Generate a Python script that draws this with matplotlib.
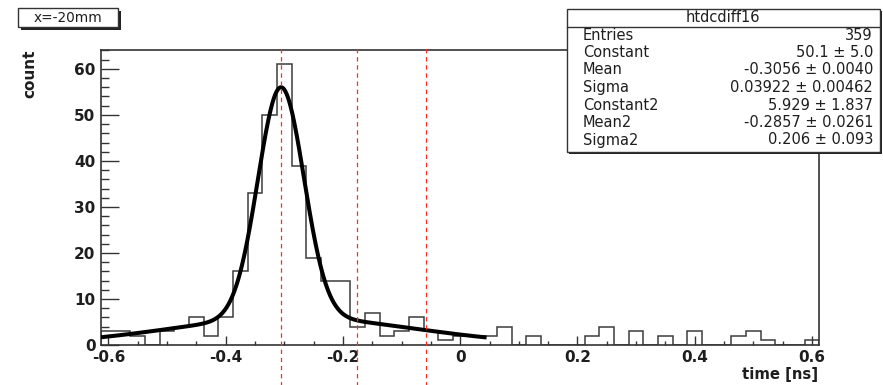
"""
Timing-difference histogram htdcdiff16 (x = -20 mm) with a double-Gaussian fit,
drawn in the style of a ROOT canvas: stats box, pad label and marker lines.
"""

import numpy as np
import matplotlib.pyplot as plt
from matplotlib.patches import Rectangle
from matplotlib.ticker import MultipleLocator, FuncFormatter

# =============================================================================
# DATA
# =============================================================================
HIST_NAME = "htdcdiff16"
PAD_LABEL = "x=-20mm"
ENTRIES = 359

# 49 bins of 0.025 ns, centred on multiples of 0.025 from -0.6 to 0.6
x_lo, x_hi = -0.6125, 0.6125
counts = [3, 3, 2, 0, 3, 4, 6, 2, 6,
          16, 33, 50, 61, 39, 19, 14, 14,
          4, 7, 2, 3, 6, 3, 1, 2,
          2, 2, 4, 0, 2, 0, 0, 0,
          2, 4, 0, 3, 0, 2, 0, 3,
          0, 0, 2, 3, 1, 0, 0, 1]

# fit results: (name, value, error)
fit_pars = [
    ("Constant",  50.1,     5.0),
    ("Mean",      -0.3056,  0.0040),
    ("Sigma",     0.03922,  0.00462),
    ("Constant2", 5.929,    1.837),
    ("Mean2",     -0.2857,  0.0261),
    ("Sigma2",    0.206,    0.093),
]
fit_fmt = ["{:.1f}", "{:.4f}", "{:.5f}", "{:.3f}", "{:.4f}", "{:.3f}"]
fit_range = (-0.6125, 0.045)

# cut lines (ns)
cut_lines = [-0.3056, -0.176, -0.059]

# =============================================================================
# STYLE
# =============================================================================
W, H = 883, 385
TXT = "#1e1e1e"
plt.rcParams.update({
    "font.family": ["DejaVu Sans"],
    "axes.linewidth": 1.2,
    "axes.edgecolor": "#333333",
})


def px(x, y):
    """Figure-fraction coordinates from pixel position (origin top-left)."""
    return x / W, 1 - y / H


def double_gaus(x, p):
    c1, m1, s1, c2, m2, s2 = p
    return (c1 * np.exp(-0.5 * ((x - m1) / s1) ** 2)
            + c2 * np.exp(-0.5 * ((x - m2) / s2) ** 2))


def shadow_box(fig, x0, y0, x1, y1, shadow=3):
    """ROOT-like box with a dark drop shadow to the lower right."""
    fx0, fy1 = px(x0, y0)
    fx1, fy0 = px(x1, y1)
    sx, sy = shadow / W, shadow / H
    fig.add_artist(Rectangle((fx0 + sx, fy0 - sy), fx1 - fx0, fy1 - fy0,
                             transform=fig.transFigure, facecolor="#222222",
                             edgecolor="none", zorder=5))
    fig.add_artist(Rectangle((fx0, fy0), fx1 - fx0, fy1 - fy0,
                             transform=fig.transFigure, facecolor="white",
                             edgecolor="#333333", linewidth=1.0, zorder=6))


# =============================================================================
# FIGURE
# =============================================================================
fig = plt.figure(figsize=(W / 100, H / 100), dpi=100)
ax = fig.add_axes([101 / W, 40 / H, (819.4 - 101) / W, (345 - 50) / H])

edges = np.linspace(x_lo, x_hi, len(counts) + 1)
ax.stairs(counts, edges, color="#3c3c3c", linewidth=1.1, zorder=2)

xf = np.linspace(*fit_range, 600)
ax.plot(xf, double_gaus(xf, [p[1] for p in fit_pars]), color="black",
        linewidth=2.9, zorder=3, solid_capstyle="butt")

for xc in cut_lines:
    ax.plot([xc, xc], [-9, 65], color="#ff2a2a", linewidth=0.9,
            linestyle=(0, (3.5, 3)), clip_on=False, zorder=4)

ax.set_xlim(x_lo, x_hi)
ax.set_ylim(0, 64.1)

ax.xaxis.set_major_locator(MultipleLocator(0.2))
ax.xaxis.set_minor_locator(MultipleLocator(0.05))
ax.yaxis.set_major_locator(MultipleLocator(10))
ax.yaxis.set_minor_locator(MultipleLocator(2))
ax.xaxis.set_major_formatter(FuncFormatter(lambda v, _: f"{round(v, 3) + 0:g}"))
ax.tick_params(axis="both", which="both", direction="in", top=False, right=False,
               color="#333333", width=1.0, labelsize=11)
ax.tick_params(axis="x", which="major", length=6.5, pad=3.5)
ax.tick_params(axis="x", which="minor", length=3.2)
ax.tick_params(axis="y", which="major", length=13, pad=4)
ax.tick_params(axis="y", which="minor", length=5.8)
for lab in ax.get_xticklabels() + ax.get_yticklabels():
    lab.set_fontweight("bold")
    lab.set_color(TXT)

# axis titles
fig.text(*px(30, 49), "count", rotation=90, ha="center", va="top",
         fontsize=11, fontweight="bold", color=TXT)
fig.text(*px(818, 375), "time [ns]", ha="right", va="center",
         fontsize=10.7, fontweight="bold", color=TXT)

# pad label
shadow_box(fig, 18, 8, 118, 27, shadow=3)
fig.text(*px(68, 17.5), PAD_LABEL, ha="center", va="center", fontsize=9.8,
         color=TXT, zorder=7)

# stats box
shadow_box(fig, 567, 9, 880, 152, shadow=2)
sep_y = px(0, 27)[1]
fig.add_artist(plt.Line2D([567 / W, 880 / W], [sep_y, sep_y],
                          transform=fig.transFigure, color="#333333",
                          linewidth=1.0, zorder=7))
fig.text(*px(723, 18), HIST_NAME, ha="center", va="center", fontsize=10.5,
         color=TXT, zorder=7)

rows = [("Entries", f"{ENTRIES}")]
for (name, val, err), fmt in zip(fit_pars, fit_fmt):
    rows.append((name, f"{fmt.format(val)} \u00b1 {fmt.format(err)}"))

for i, (name, val) in enumerate(rows):
    yy = 35 + 17.5 * i
    fig.text(*px(583, yy), name, ha="left", va="center", fontsize=10.5,
             color=TXT, zorder=7)
    fig.text(*px(873, yy), val, ha="right", va="center", fontsize=10.5,
             color=TXT, zorder=7)

fig.savefig("out.png", dpi=100)
